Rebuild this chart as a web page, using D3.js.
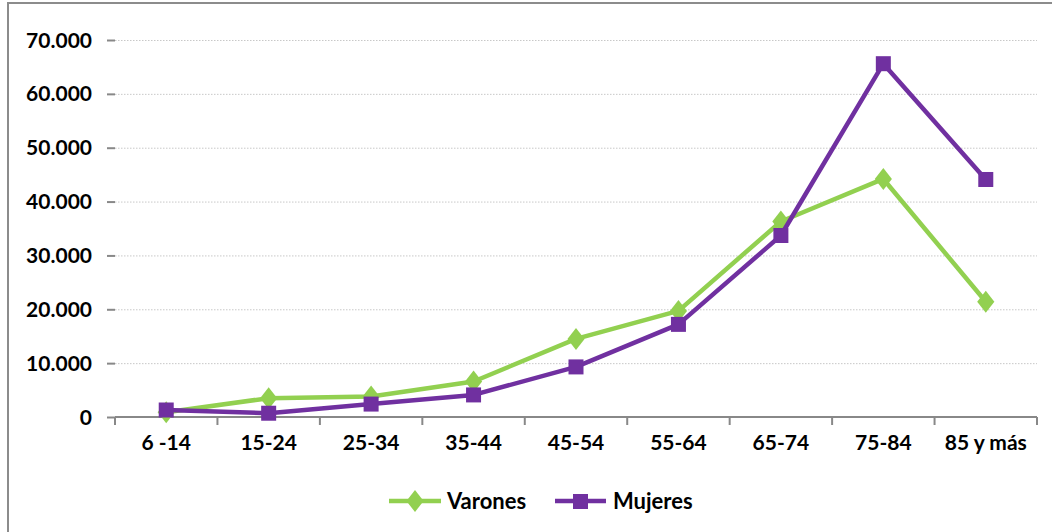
<!DOCTYPE html>
<html><head><meta charset="utf-8">
<script src="https://cdn.jsdelivr.net/npm/d3@7"></script>
<style>
html,body{margin:0;padding:0;background:#fff;}
svg{display:block;}
text{font-family:Lato,"Open Sans",sans-serif;font-weight:bold;fill:#000;}
</style></head>
<body>
<svg id="c" width="1052" height="532"></svg>
<script>
const categories = ["6 -14","15-24","25-34","35-44","45-54","55-64","65-74","75-84","85 y más"];
const varones = [900, 3500, 3800, 6600, 14500, 19700, 36300, 44200, 21400];
const mujeres = [1300, 700, 2400, 4100, 9300, 17200, 33700, 65600, 44100];
const yTicks = [0,10000,20000,30000,40000,50000,60000,70000];
const seriesNames = ["Varones","Mujeres"];

const svg = d3.select("#c");
const green = "#92D050", purple = "#7030A0";

// frame
svg.append("path").attr("d","M8,540 L8,3 L1060,3").attr("fill","none").attr("stroke","#8c8c8c").attr("stroke-width",2);

const x = d3.scaleBand().domain(categories).range([115,1037]).padding(0);
const y = d3.scaleLinear().domain([0,70000]).range([417,40]);
const fmt = v => d3.format(",")(v).replace(/,/g,".");

// gridlines
svg.append("g").selectAll("line").data(yTicks.filter(d=>d>0)).join("line")
  .attr("x1",115).attr("x2",1037).attr("y1",d=>y(d)+0.5).attr("y2",d=>y(d)+0.5)
  .attr("stroke","#c8c8c8").attr("stroke-width",1).attr("stroke-dasharray","1.5,1.5");

// y axis
const yAxis = svg.append("g").attr("transform","translate(115,0)")
  .call(d3.axisLeft(y).tickValues(yTicks).tickFormat(fmt).tickSize(8).tickPadding(15));
yAxis.select(".domain").remove();
yAxis.selectAll(".tick line").attr("stroke","#888").attr("stroke-width",2);
yAxis.selectAll("text").style("font-size","21px").attr("dy","0.34em");

// x axis
const xAxis = svg.append("g").attr("transform","translate(0,417)")
  .call(d3.axisBottom(x).tickSize(0).tickPadding(22));
xAxis.select(".domain").attr("stroke","#888").attr("stroke-width",2).attr("d","M115,0H1037");
xAxis.selectAll("text").style("font-size","21px").attr("dy","0.5em");
const bounds = categories.map(c=>x(c)).concat([1037]);
xAxis.append("g").selectAll("line").data(bounds).join("line")
  .attr("x1",d=>d).attr("x2",d=>d).attr("y1",0).attr("y2",8)
  .attr("stroke","#888").attr("stroke-width",2);

const cx = c => x(c) + x.bandwidth()/2;
const line = d3.line().x((d,i)=>cx(categories[i])).y(d=>y(d));

// Varones
svg.append("path").datum(varones).attr("d",line).attr("fill","none")
  .attr("stroke",green).attr("stroke-width",4.5).attr("stroke-linejoin","round");
const diamond = d3.symbol().type(d3.symbolDiamond).size(140);
svg.append("g").selectAll("path").data(varones).join("path")
  .attr("d",diamond)
  .attr("transform",(d,i)=>`translate(${cx(categories[i])},${y(d)}) scale(1.35,1)`)
  .attr("fill",green);

// Mujeres
svg.append("path").datum(mujeres).attr("d",line).attr("fill","none")
  .attr("stroke",purple).attr("stroke-width",4.5).attr("stroke-linejoin","round");
svg.append("g").selectAll("rect").data(mujeres).join("rect")
  .attr("x",(d,i)=>cx(categories[i])-7.5).attr("y",d=>y(d)-7.5)
  .attr("width",15).attr("height",15).attr("fill",purple);

// legend
const leg = svg.append("g");
leg.append("line").attr("x1",389).attr("x2",441).attr("y1",501).attr("y2",501).attr("stroke",green).attr("stroke-width",4.5);
leg.append("path").attr("d",diamond).attr("transform","translate(415,501) scale(1.35,1)").attr("fill",green);
leg.append("text").attr("x",447).attr("y",501).attr("dy","0.35em").style("font-size","22px").text(seriesNames[0]);
leg.append("line").attr("x1",555).attr("x2",606).attr("y1",501).attr("y2",501).attr("stroke",purple).attr("stroke-width",4.5);
leg.append("rect").attr("x",573).attr("y",494).attr("width",15).attr("height",15).attr("fill",purple);
leg.append("text").attr("x",613).attr("y",501).attr("dy","0.35em").style("font-size","22px").text(seriesNames[1]);
</script>
</body></html>
